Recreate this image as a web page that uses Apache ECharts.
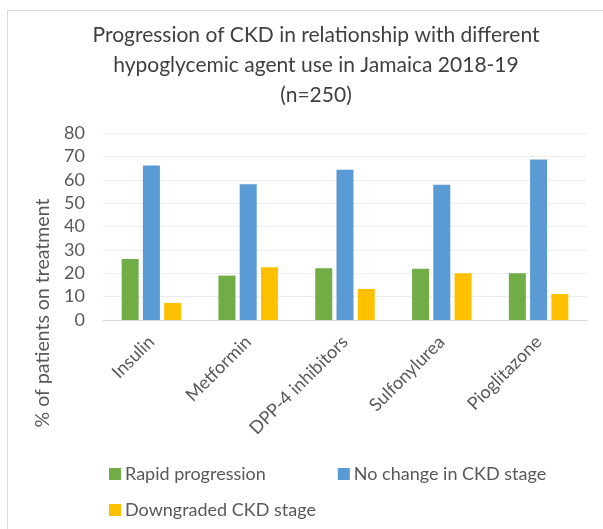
<!DOCTYPE html>
<html>
<head>
<meta charset="utf-8">
<script src="https://cdn.jsdelivr.net/npm/echarts@6/dist/echarts.min.js"></script>
<style>
  html, body { margin: 0; padding: 0; background: #fff; }
  #frame { position: absolute; left: 7px; top: 10px; width: 700px; height: 600px; border: 1px solid #d9d9d9; }
  #main { position: absolute; left: 0; top: 0; width: 603px; height: 529px; }
</style>
</head>
<body>
<div id="frame"></div>
<div id="main"></div>
<script>
// data
const categories = ['Insulin', 'Metformin', 'DPP-4 inhibitors', 'Sulfonylurea', 'Pioglitazone']
const rapidProgression = [26.1, 19.0, 22.1, 21.9, 20.0]
const noChange = [66.1, 58.1, 64.3, 57.9, 68.7]
const downgraded = [7.3, 22.6, 13.3, 20.0, 11.1]
const seriesNames = ['Rapid progression', 'No change in CKD stage', 'Downgraded CKD stage']
const seriesColors = ['#70AD47', '#5B9BD5', '#FFC000']

const font = 'Lato'
const textColor = '#595959'

const myChart = echarts.init(document.getElementById('main'), null, { renderer: 'canvas' })

const makeBar = (name, data, color) => ({
  name: name,
  type: 'bar',
  data: data,
  barWidth: 17,
  barGap: '25%',
  itemStyle: { color: color },
  emphasis: { disabled: true }
})

const option = {
  backgroundColor: 'transparent',
  animation: false,
  textStyle: { fontFamily: font },
  title: {
    text: 'Progression of CKD in relationship with different\nhypoglycemic agent use in Jamaica 2018-19\n(n=250)',
    left: 311,
    textAlign: 'center',
    top: 15,
    textStyle: {
      fontFamily: font,
      fontSize: 21,
      fontWeight: 'normal',
      color: '#404040',
      lineHeight: 30
    }
  },
  legend: [
    {
      data: seriesNames.slice(0, 2),
      left: 104,
      top: 460,
      itemWidth: 12,
      itemHeight: 12,
      itemGap: 72,
      icon: 'rect',
      textStyle: { fontFamily: font, fontSize: 18, color: textColor, padding: [0, 0, 0, -1] }
    },
    {
      data: seriesNames.slice(2),
      left: 104,
      top: 496,
      itemWidth: 12,
      itemHeight: 12,
      icon: 'rect',
      textStyle: { fontFamily: font, fontSize: 18, color: textColor, padding: [0, 0, 0, -1] }
    }
  ],
  grid: {
    left: 103,
    right: 16,
    top: 133,
    bottom: 209,
    containLabel: false
  },
  xAxis: {
    type: 'category',
    data: categories,
    axisLine: { lineStyle: { color: '#d9d9d9', width: 1 } },
    axisTick: { show: false },
    axisLabel: {
      rotate: 45,
      margin: 19,
      fontFamily: font,
      fontSize: 18,
      color: textColor
    }
  },
  yAxis: {
    type: 'value',
    min: 0,
    max: 80,
    interval: 10,
    axisLine: { show: false },
    axisTick: { show: false },
    splitLine: { lineStyle: { color: '#ececec', width: 1 } },
    axisLabel: {
      margin: 18,
      fontFamily: font,
      fontSize: 18,
      color: textColor
    }
  },
  graphic: [
    {
      type: 'text',
      x: 43,
      y: 313,
      rotation: Math.PI / 2,
      style: {
        text: '% of patients on treatment',
        fontFamily: font,
        fontSize: 19.5,
        fill: textColor,
        align: 'center',
        verticalAlign: 'middle'
      }
    }
  ],
  series: [
    makeBar(seriesNames[0], rapidProgression, seriesColors[0]),
    makeBar(seriesNames[1], noChange, seriesColors[1]),
    makeBar(seriesNames[2], downgraded, seriesColors[2])
  ]
}

myChart.setOption(option)
</script>
</body>
</html>
